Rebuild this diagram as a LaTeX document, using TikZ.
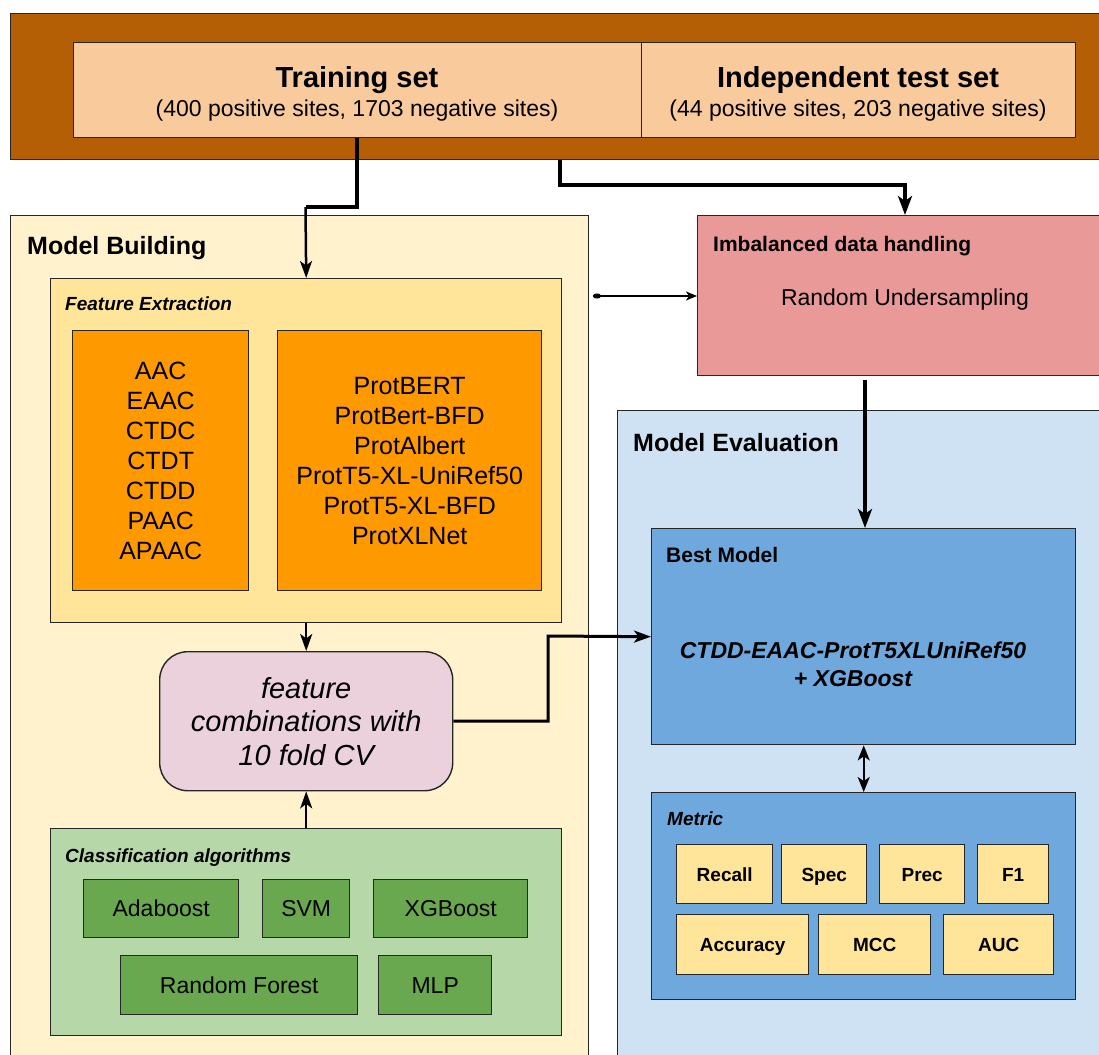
\documentclass[tikz,border=0pt]{standalone}
\usepackage{fontspec}
\setmainfont{Liberation Sans}
\usetikzlibrary{arrows.meta}
\definecolor{cbrown}{HTML}{B45F06}
\definecolor{cpeach}{HTML}{F9CB9C}
\definecolor{cmb}{HTML}{FFF2CC}
\definecolor{cfe}{HTML}{FFE599}
\definecolor{corange}{HTML}{FF9900}
\definecolor{ccomb}{HTML}{EAD1DC}
\definecolor{cclass}{HTML}{B6D7A8}
\definecolor{cgreen}{HTML}{6AA84F}
\definecolor{cimb}{HTML}{EA9999}
\definecolor{cme}{HTML}{CFE2F3}
\definecolor{cblue}{HTML}{6FA8DC}
\newcommand\fsz[2]{\fontsize{#1}{#2}\selectfont}
\begin{document}
\begin{tikzpicture}[x=1pt,y=-1pt,
  bx/.style={draw=black!85, line width=1.4pt, rectangle, inner sep=0pt, anchor=north west},
  gbox/.style={bx, fill=cgreen, font=\fsz{23}{28}, text height=16.5pt, text depth=0pt},
  mbox/.style={bx, fill=cfe, font=\fsz{19}{23}\bfseries, text height=13.6pt, text depth=0pt},
  lbl/.style={inner sep=0pt, anchor=base west},
  ctr/.style={inner sep=0pt, anchor=base},
  conn/.style={draw=black, line width=#1},
  arr/.style={-{Stealth[length=19pt,width=14pt,inset=5pt]}},
  sarr/.style={-{Stealth[length=17pt,width=12pt,inset=4.5pt]}}]
\useasboundingbox (0,0) rectangle (1099,1054);

% top band
\node[bx, fill=cbrown, minimum width=1110pt, minimum height=146pt] (brown) at (10,13) {};
\node[bx, fill=cpeach, minimum width=568pt, minimum height=95pt] (ts) at (73,42) {};
\node[bx, fill=cpeach, minimum width=434pt, minimum height=95pt] (its) at (641,42) {};
\node[ctr, font=\fsz{29}{34}\bfseries] (tsT) at (357,87.4) {Training set};
\node[ctr, font=\fsz{23}{28}] (tsS) at (357,116.2) {(400 positive sites, 1703 negative sites)};
\node[ctr, font=\fsz{29}{34}\bfseries] (itsT) at (858,87.4) {Independent test set};
\node[ctr, font=\fsz{23}{28}] (itsS) at (858,116.2) {(44 positive sites, 203 negative sites)};

% model building
\node[bx, fill=cmb, minimum width=578pt, minimum height=860pt] (mb) at (10,215) {};
\node[lbl, font=\fsz{25}{30}\bfseries] (mbT) at (27,254) {Model Building};
\node[bx, fill=cfe, minimum width=511pt, minimum height=344pt] (fe) at (50,278) {};
\node[lbl, font=\fsz{19}{23}\bfseries\itshape] (feT) at (65,310) {Feature Extraction};
\node[bx, fill=corange, minimum width=176pt, minimum height=260pt, align=center, font=\fsz{25}{30}] (or1) at (72,330)
  {AAC\\EAAC\\CTDC\\CTDT\\CTDD\\PAAC\\APAAC};
\node[bx, fill=corange, minimum width=264pt, minimum height=260pt, align=center, font=\fsz{25}{30}] (or2) at (277,330)
  {ProtBERT\\ProtBert-BFD\\ProtAlbert\\ProtT5-XL-UniRef50\\ProtT5-XL-BFD\\ProtXLNet};
\node[bx, fill=ccomb, rounded corners=28pt, minimum width=293pt, minimum height=139pt, align=center, font=\fsz{29}{33.5}\itshape] (comb) at (159,651)
  {feature\\combinations with\\10 fold CV};
\node[bx, fill=cclass, minimum width=511pt, minimum height=207pt] (cls) at (50,828) {};
\node[lbl, font=\fsz{19}{23}\bfseries\itshape] (clsT) at (65,862) {Classification algorithms};
\node[gbox, minimum width=155pt, minimum height=58pt] (ada) at (83,879) {Adaboost};
\node[gbox, minimum width=87pt, minimum height=58pt] (svm) at (262,879) {SVM};
\node[gbox, minimum width=154pt, minimum height=58pt] (xgb) at (373,879) {XGBoost};
\node[gbox, minimum width=237pt, minimum height=59pt] (rf) at (120,955) {Random Forest};
\node[gbox, minimum width=113pt, minimum height=59pt] (mlp) at (378,955) {MLP};

% imbalanced
\node[bx, fill=cimb, minimum width=420pt, minimum height=160pt] (imb) at (697,215) {};
\node[lbl, font=\fsz{21}{25}\bfseries] (imbT) at (713,251.5) {Imbalanced data handling};
\node[ctr, font=\fsz{23}{28}] (imbS) at (905,305) {Random Undersampling};

% model evaluation
\node[bx, fill=cme, minimum width=500pt, minimum height=660pt] (me) at (617,410) {};
\node[lbl, font=\fsz{25}{30}\bfseries] (meT) at (633,451) {Model Evaluation};
\node[bx, fill=cblue, minimum width=424pt, minimum height=216pt] (best) at (651,528) {};
\node[lbl, font=\fsz{21}{25}\bfseries] (bestT) at (666,562.5) {Best Model};
\node[inner sep=0pt, align=center, font=\fsz{23}{28}\bfseries\itshape] (bestS) at (853,664)
  {CTDD-EAAC-ProtT5XLUniRef50\\+ XGBoost};
\node[bx, fill=cblue, minimum width=424pt, minimum height=207pt] (met) at (651,792) {};
\node[lbl, font=\fsz{19}{23}\bfseries\itshape] (metT) at (667,825) {Metric};
\node[mbox, minimum width=96pt, minimum height=59pt] (rec) at (676,844) {Recall};
\node[mbox, minimum width=85pt, minimum height=59pt] (spec) at (781,844) {Spec};
\node[mbox, minimum width=85pt, minimum height=59pt] (prec) at (879,844) {Prec};
\node[mbox, minimum width=71pt, minimum height=59pt] (fone) at (977,844) {F1};
\node[mbox, minimum width=132pt, minimum height=60pt] (acc) at (676,914) {Accuracy};
\node[mbox, minimum width=112pt, minimum height=60pt] (mcc) at (818,914) {MCC};
\node[mbox, minimum width=110pt, minimum height=60pt] (auc) at (943,914) {AUC};

% connectors
\coordinate (b1) at (357,207);
\coordinate (b1b) at (305.5,207);
\draw[conn=4pt] (ts.south -| b1) -- (b1) -- (b1b);
\draw[conn=2.5pt, sarr] (b1b) -- (fe.north);

\coordinate (b2) at (560,185);
\coordinate (b2b) at (905,185);
\draw[conn=4pt, arr] (brown.south -| b2) -- (b2) -- (b2b) -- (imb.north -| b2b);

\draw[conn=2.5pt, sarr] (fe.south) -- (comb.north);
\draw[conn=2.5pt, sarr] (cls.north) -- (comb.south);

\coordinate (b5) at (548,636);
\draw[conn=3pt, sarr] (comb.east) -| (b5) -- (best.west);

\coordinate (d6) at (593,296);
\draw[conn=2pt, {Circle[length=8pt,width=5pt]}-{Stealth[length=11pt,width=9pt,inset=3pt]}] (d6) -- (imb.west |- d6);

\coordinate (d7) at (865,380);
\draw[conn=3.5pt, arr] (d7) -- (best.north -| d7);

\draw[conn=2pt, {Stealth[length=15pt,width=12pt,inset=4pt]}-{Stealth[length=15pt,width=12pt,inset=4pt]}] (best.south) -- (met.north);
\end{tikzpicture}
\end{document}
